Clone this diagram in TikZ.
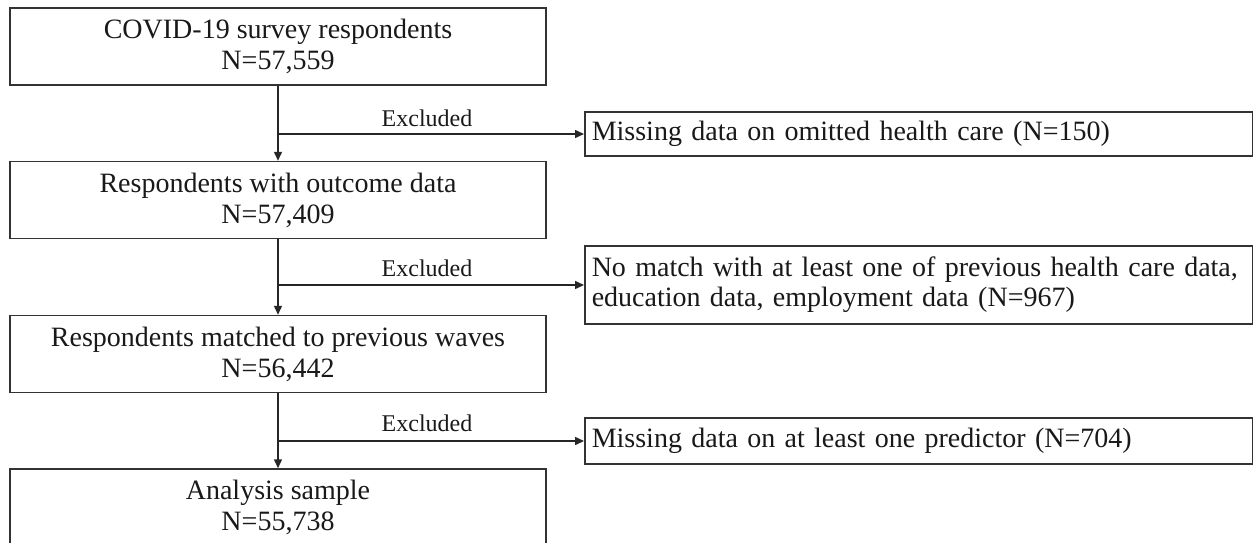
\documentclass[tikz,border=0pt]{standalone}
\usepackage{fontspec}
\setmainfont{Liberation Serif}
\usetikzlibrary{arrows.meta,calc}
\begin{document}
\begin{tikzpicture}[x=1pt,y=-1pt,
  mainbox/.style={draw=black!80,line width=1.5pt,minimum width=536pt,minimum height=77pt,
    align=center,inner sep=0pt,text=black!90,font=\fontsize{28}{31}\selectfont},
  sidebox/.style={draw=black!80,line width=1.5pt,anchor=west,minimum width=668pt,
    text width=654pt,align=left,inner sep=0pt,inner xsep=7pt,text=black!90,
    font=\fontsize{28}{30}\selectfont},
  conn/.style={line width=1.5pt,black!85},
  arr/.style={conn,-{Triangle[length=9pt,width=8pt]}},
  exlbl/.style={font=\fontsize{24}{26}\selectfont,inner sep=0pt,text=black!90}]
\useasboundingbox (0,0) rectangle (1253,543);
\fill[white] (0,0) rectangle (1253,543);
\node[mainbox] (b1) at (278,46.7) {COVID-19 survey respondents\\N=57,559};
\node[mainbox] (b2) at (278,200) {Respondents with outcome data\\N=57,409};
\node[mainbox] (b3) at (278,354) {Respondents matched to previous waves\\N=56,442};
\node[mainbox] (b4) at (278,507.5) {Analysis sample\\N=55,738};
\node[sidebox,minimum height=44pt] (r1) at (584,134) {Missing data on omitted health care (N=150)};
\node[sidebox,minimum height=78pt] (r2) at (584,285) {No match with at least one of previous health care data,\\education data, employment data (N=967)};
\node[sidebox,minimum height=46pt] (r3) at (584,441) {Missing data on at least one predictor (N=704)};
\coordinate (j1) at (278,134);
\coordinate (j2) at (278,285);
\coordinate (j3) at (278,441);
\draw[arr] (b1.south) -- (b2.north);
\draw[arr] (b2.south) -- (b3.north);
\draw[arr] (b3.south) -- (b4.north);
\draw[arr] (j1) -- (r1.west |- j1);
\draw[arr] (j2) -- (r2.west |- j2);
\draw[arr] (j3) -- (r3.west |- j3);
\node[exlbl] (e1) at (427,118) {Excluded};
\node[exlbl] (e2) at (427,268) {Excluded};
\node[exlbl] (e3) at (427,423) {Excluded};
\end{tikzpicture}
\end{document}
